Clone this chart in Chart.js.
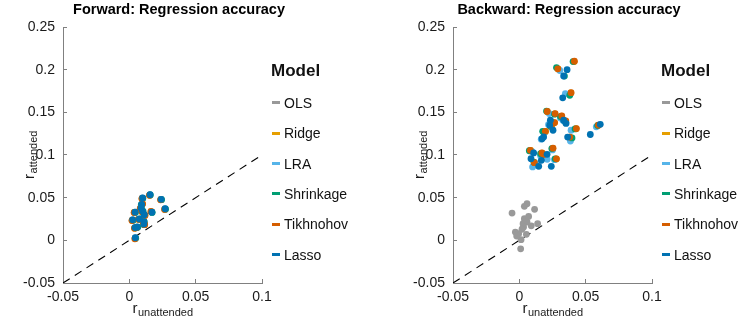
<!DOCTYPE html>
<html>
<head>
<meta charset="utf-8">
<script src="https://cdn.jsdelivr.net/npm/chart.js@4.4.1/dist/chart.umd.min.js"></script>
<style>
  html, body { margin:0; padding:0; background:#fff; }
  body { width:743px; height:327px; position:relative; overflow:hidden; font-family:"Liberation Sans", Arial, Helvetica, sans-serif; }
  .wrap { position:absolute; top:0; height:327px; }
  .legend { position:absolute; top:0; color:#111; }
  .legend .ttl { position:absolute; font-weight:bold; font-size:17px; line-height:20px; white-space:nowrap; }
  .legend .item { position:absolute; font-size:14px; line-height:16px; white-space:nowrap; }
  .legend .sw { position:absolute; width:8px; height:3px; }
</style>
</head>
<body>
<div class="wrap" style="left:0;width:358px"><canvas id="fwd" width="358" height="327"></canvas></div>
<div class="wrap" style="left:375px;width:388px"><canvas id="bwd" width="388" height="327"></canvas></div>
<div class="legend" id="legFwd"></div>
<div class="legend" id="legBwd"></div>
<script>
// ---------------- DATA ----------------
const modelNames  = ['OLS', 'Ridge', 'LRA', 'Shrinkage', 'Tikhnohov', 'Lasso'];
const modelColors = ['#999999', '#E69F00', '#56B4E9', '#009E73', '#D55E00', '#0072B2'];
const panelTitles = ['Forward: Regression accuracy', 'Backward: Regression accuracy'];
const legendTitle = 'Model';
const xAxisMain = 'r', xAxisSub = 'unattended';
const yAxisMain = 'r', yAxisSub = 'attended';

const xTickValues = [-0.05, 0, 0.05, 0.1];
const xTickLabels = ['-0.05', '0', '0.05', '0.1'];
const yTickValues = [-0.05, 0, 0.05, 0.1, 0.15, 0.2, 0.25];
const yTickLabels = ['-0.05', '0', '0.05', '0.1', '0.15', '0.2', '0.25'];
const diagonal = [[-0.05, -0.05], [0.1, 0.1]];

// Forward panel: [r_unattended, r_attended]
const fwdOLS = [[0.0099,0.0494],[0.0155,0.0533],[0.0239,0.0479],[0.0093,0.0420],[0.0088,0.0378],[0.0269,0.0369],[0.0169,0.0330],[0.0100,0.0339],[0.0112,0.0299],[0.0043,0.0329],[0.0075,0.0249],[0.0025,0.0239],[0.0109,0.0219],[0.0109,0.0189],[0.0043,0.0149],[0.0060,0.0155],[0.0045,0.0029]];
const fwdRidge = [[0.0096,0.0489],[0.0153,0.0529],[0.0237,0.0476],[0.0099,0.0427],[0.0083,0.0373],[0.0267,0.0363],[0.0164,0.0337],[0.0096,0.0336],[0.0117,0.0293],[0.0037,0.0326],[0.0069,0.0246],[0.0021,0.0233],[0.0105,0.0214],[0.0115,0.0184],[0.0040,0.0143],[0.0055,0.0151],[0.0043,0.0019]];
const fwdLRA = [[0.0098,0.0493],[0.0155,0.0532],[0.0238,0.0479],[0.0094,0.0418],[0.0087,0.0377],[0.0268,0.0368],[0.0168,0.0329],[0.0099,0.0337],[0.0112,0.0298],[0.0042,0.0328],[0.0074,0.0248],[0.0024,0.0238],[0.0108,0.0218],[0.0109,0.0189],[0.0042,0.0148],[0.0059,0.0154],[0.0044,0.0027]];
const fwdShrinkage = [[0.0102,0.0492],[0.0158,0.0531],[0.0243,0.0477],[0.0090,0.0416],[0.0091,0.0376],[0.0273,0.0365],[0.0172,0.0327],[0.0104,0.0338],[0.0110,0.0297],[0.0046,0.0327],[0.0079,0.0247],[0.0029,0.0236],[0.0113,0.0216],[0.0107,0.0187],[0.0047,0.0147],[0.0063,0.0153],[0.0048,0.0025]];
const fwdTikhnohov = [[0.0095,0.0488],[0.0152,0.0528],[0.0236,0.0475],[0.0100,0.0428],[0.0082,0.0372],[0.0266,0.0362],[0.0163,0.0338],[0.0095,0.0335],[0.0118,0.0292],[0.0036,0.0325],[0.0068,0.0246],[0.0020,0.0232],[0.0104,0.0213],[0.0116,0.0183],[0.0039,0.0142],[0.0054,0.0150],[0.0042,0.0018]];
const fwdLasso = [[0.0100,0.0496],[0.0156,0.0535],[0.0240,0.0480],[0.0093,0.0420],[0.0088,0.0380],[0.0270,0.0370],[0.0170,0.0330],[0.0100,0.0340],[0.0113,0.0300],[0.0043,0.0330],[0.0075,0.0250],[0.0025,0.0240],[0.0110,0.0220],[0.0110,0.0190],[0.0043,0.0150],[0.0060,0.0156],[0.0045,0.0030]];

// Backward panel
const bwdOLS = [[0.0058,0.0430],[0.0038,0.0398],[0.0115,0.0363],[-0.0055,0.0320],[0.0045,0.0234],[0.0038,0.0254],[0.0028,0.0195],[0.0058,0.0215],[0.0138,0.0195],[0.0032,0.0156],[-0.0030,0.0097],[-0.0005,0.0078],[0.0053,0.0070],[0.0013,0.0008],[0.0010,-0.0100],[-0.0020,0.0050],[0.0070,0.0280],[0.0020,0.0130],[0.0090,0.0170]];
const bwdRidge = [[0.0413,0.2095],[0.0292,0.2008],[0.0388,0.1728],[0.0212,0.1508],[0.0268,0.1483],[0.0318,0.1455],[0.0264,0.1378],[0.0428,0.1308],[0.0198,0.1276],[0.0378,0.1208],[0.0252,0.1078],[0.0085,0.1053],[0.0172,0.1022],[0.0181,0.1003],[0.0115,0.0908],[0.0278,0.0953],[0.0594,0.1348],[0.0242,0.1338],[0.0348,0.1398]];
const bwdLRA = [[0.0347,0.1720],[0.0347,0.1387],[0.0100,0.0860],[0.0385,0.1164],[0.0580,0.1330],[0.0250,0.1060],[0.0210,0.0950],[0.0305,0.1990],[0.0225,0.1485],[0.0310,0.1435],[0.0190,0.1265],[0.0165,0.1185],[0.0095,0.1040],[0.0160,0.0990],[0.0125,0.0900],[0.0265,0.0945],[0.0220,0.1355],[0.0390,0.1290],[0.0330,0.1405]];
const bwdShrinkage = [[0.0280,0.2025],[0.0405,0.2095],[0.0380,0.1700],[0.0205,0.1515],[0.0265,0.1478],[0.0310,0.1450],[0.0350,0.1385],[0.0176,0.1278],[0.0397,0.1200],[0.0245,0.1075],[0.0075,0.1050],[0.0160,0.1015],[0.0270,0.0955],[0.0110,0.0915],[0.0420,0.1305],[0.0590,0.1345],[0.0235,0.1335],[0.0255,0.1375],[0.0340,0.1925]];
const bwdTikhnohov = [[0.0415,0.2100],[0.0290,0.2010],[0.0390,0.1730],[0.0210,0.1510],[0.0270,0.1485],[0.0320,0.1457],[0.0266,0.1380],[0.0430,0.1310],[0.0196,0.1278],[0.0380,0.1210],[0.0254,0.1080],[0.0083,0.1055],[0.0170,0.1024],[0.0183,0.1005],[0.0113,0.0910],[0.0280,0.0955],[0.0596,0.1350],[0.0240,0.1340],[0.0350,0.1400]];
const bwdLasso = [[0.0360,0.2000],[0.0334,0.1926],[0.0327,0.1670],[0.0234,0.1407],[0.0334,0.1407],[0.0229,0.1350],[0.0352,0.1370],[0.0254,0.1290],[0.0183,0.1211],[0.0171,0.1190],[0.0364,0.1210],[0.0535,0.1240],[0.0108,0.1024],[0.0209,0.1008],[0.0088,0.0957],[0.0166,0.0938],[0.0146,0.0867],[0.0241,0.0867],[0.0610,0.1360]];

const fwdSeries = [fwdOLS, fwdRidge, fwdLRA, fwdShrinkage, fwdTikhnohov, fwdLasso];
const bwdSeries = [bwdOLS, bwdRidge, bwdLRA, bwdShrinkage, bwdTikhnohov, bwdLasso];

// ---------------- RENDER ----------------
const FONT = '"Liberation Sans", Arial, Helvetica, sans-serif';
const AXIS_GRAY = '#808080';
const TEXT = '#1a1a1a';

const subTitlePlugin = {
  id: 'subTitles',
  afterDraw(chart, args, o) {
    const {ctx, chartArea: a} = chart;
    const big = '15px ' + FONT, small = '11px ' + FONT;
    ctx.save();
    ctx.fillStyle = TEXT;
    ctx.textBaseline = 'alphabetic';
    ctx.textAlign = 'left';
    // x title
    ctx.font = big; let w1 = ctx.measureText(xAxisMain).width;
    ctx.font = small; let w2 = ctx.measureText(xAxisSub).width;
    let x0 = (a.left + a.right) / 2 - (w1 + w2) / 2;
    ctx.font = big; ctx.fillText(xAxisMain, x0, o.xBase);
    ctx.font = small; ctx.fillText(xAxisSub, x0 + w1 + 0.5, o.xBase + 2.8);
    // y title
    ctx.font = big; w1 = ctx.measureText(yAxisMain).width;
    ctx.font = small; w2 = ctx.measureText(yAxisSub).width;
    ctx.translate(a.left - o.yOffset, (a.top + a.bottom) / 2);
    ctx.rotate(-Math.PI / 2);
    x0 = -(w1 + w2) / 2;
    ctx.font = big; ctx.fillText(yAxisMain, x0, 0);
    ctx.font = small; ctx.fillText(yAxisSub, x0 + w1 + 0.5, 2.8);
    ctx.restore();
  }
};

function makeChart(id, series, title, yWidth, padRight) {
  const datasets = series.map((pts, i) => ({
    type: 'scatter',
    label: modelNames[i],
    data: pts.map(p => ({x: p[0], y: p[1]})),
    backgroundColor: modelColors[i],
    borderWidth: 0,
    pointRadius: 3.4,
    pointHoverRadius: 3.4,
    order: series.length - i
  }));
  datasets.push({
    type: 'line',
    label: 'diag',
    data: diagonal.map(p => ({x: p[0], y: p[1]})),
    borderColor: '#000',
    borderWidth: 1.1,
    borderDash: [8, 6],
    pointRadius: 0,
    fill: false,
    order: 100
  });
  return new Chart(document.getElementById(id), {
    type: 'scatter',
    data: {datasets},
    plugins: [subTitlePlugin],
    options: {
      responsive: false,
      animation: false,
      devicePixelRatio: 1,
      layout: {padding: 0},
      plugins: {
        legend: {display: false},
        tooltip: {enabled: false},
        title: {
          display: true, text: title, color: '#000',
          font: {family: FONT, size: 14.5, weight: 'bold'},
          padding: {top: 1, bottom: 8.6}
        },
        subTitles: {xBase: 313, yOffset: 29}
      },
      scales: {
        x: {
          type: 'linear', min: -0.05, max: 0.1,
          afterBuildTicks: s => { s.ticks = xTickValues.map(v => ({value: v})); },
          afterFit: s => { s.height = 44; },
          ticks: {callback: (v, i) => xTickLabels[i], color: TEXT, font: {family: FONT, size: 14}, padding: 10, maxRotation: 0, autoSkip: false},
          grid: {drawOnChartArea: false, drawTicks: true, tickLength: -4, color: AXIS_GRAY},
          border: {display: true, color: AXIS_GRAY, width: 1}
        },
        y: {
          type: 'linear', min: -0.05, max: 0.25,
          afterBuildTicks: s => { s.ticks = yTickValues.map(v => ({value: v})); },
          afterFit: s => { s.width = yWidth; },
          ticks: {callback: (v, i) => yTickLabels[i], color: TEXT, font: {family: FONT, size: 14}, padding: 12, autoSkip: false},
          grid: {drawOnChartArea: false, drawTicks: true, tickLength: -4, color: AXIS_GRAY},
          border: {display: true, color: AXIS_GRAY, width: 1}
        },
        // empty right-side spacer axis that reserves room for the legend
        spacer: {
          type: 'linear', position: 'right', display: true, min: 0, max: 1,
          afterFit: s => { s.width = padRight; },
          ticks: {display: false},
          grid: {display: false, drawTicks: false},
          border: {display: false}
        }
      }
    }
  });
}

makeChart('fwd', fwdSeries, panelTitles[0], 63, 96);
makeChart('bwd', bwdSeries, panelTitles[1], 78, 111);

function makeLegend(id, left) {
  const el = document.getElementById(id);
  el.style.left = left + 'px';
  const t = document.createElement('div');
  t.className = 'ttl'; t.textContent = legendTitle;
  t.style.left = '-1px'; t.style.top = (71 - 10) + 'px';
  el.appendChild(t);
  modelNames.forEach((name, i) => {
    const cy = 102.7 + 30.4 * i;
    const sw = document.createElement('div');
    sw.className = 'sw'; sw.style.background = modelColors[i];
    sw.style.left = '0px'; sw.style.top = (cy - 1.5) + 'px';
    el.appendChild(sw);
    const it = document.createElement('div');
    it.className = 'item'; it.textContent = name;
    it.style.left = '12px'; it.style.top = (cy - 8) + 'px';
    el.appendChild(it);
  });
}
makeLegend('legFwd', 272);
makeLegend('legBwd', 662);
</script>
</body>
</html>
